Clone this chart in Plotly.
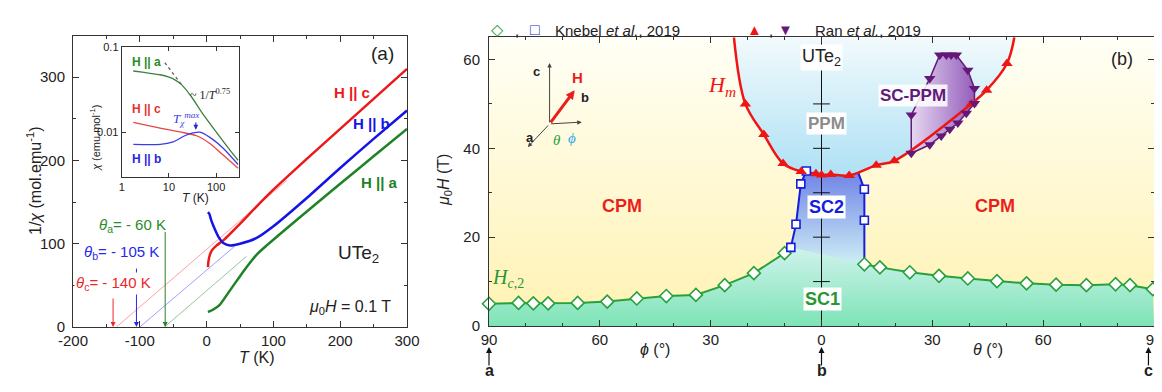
import plotly.graph_objects as go

FONT = "Liberation Sans, Arial, sans-serif"
SERIF = "Liberation Serif, Times New Roman, serif"
W, H = 1162, 392
OFF = 8                              # page body margin of the browser
WF, HF = W - 2 * OFF, H - 2 * OFF    # figure size so that the page does not overflow


def fx(px):
    return min(1.0, (px - OFF) / WF)


def fy(py):
    return 1 - (py - OFF) / HF


# ---------------- Panel (a): 1/chi vs T ----------------
T_a = [2, 5, 10, 20, 35, 50, 60, 75, 90, 125, 155, 200, 250, 300]
inv_chi_a = [18, 19, 21, 27, 44, 61, 72, 87, 98, 122, 142, 172, 205, 238]
T_b = [2, 4, 7, 12, 18, 25, 35, 50, 75, 100, 150, 200, 250, 300]
inv_chi_b = [138, 136, 128, 118, 108, 101, 98, 100, 107, 121, 155, 191, 226, 260]
T_c = [2, 3, 5, 8, 15, 25, 50, 75, 100, 150, 200, 250, 300]
inv_chi_c = [72, 80, 87, 92, 98, 104, 124, 145, 165, 202, 238, 274, 310]
T_ticks = [-200, -100, 0, 100, 200, 300]
T_ticktext = ["-200", "-100", "0", "100", "200", "300"]

# Curie-Weiss extrapolations (T, 1/chi)
cw_a_T, cw_a_v = [-63, 60], [0, 85]
cw_b_T, cw_b_v = [-100, 45], [0, 99]
cw_c_T, cw_c_v = [-135, 120], [0, 176]
theta_cw = {"a": -62, "b": -105, "c": -140}
theta_arrow_top = {"a": 116, "b": 72, "c": 36}

# Inset: chi vs T (log-log)
chi_T_a = [1.76, 3, 6.5, 10, 13.4, 18.5, 30, 50, 100, 200, 292]
chi_a = [0.052, 0.050, 0.047, 0.044, 0.041, 0.036, 0.026, 0.017, 0.0101, 0.0061, 0.0047]
chi_T_b = [1.76, 6.5, 12.3, 21.8, 32.6, 45, 73.5, 141, 292]
chi_b = [0.0072, 0.0072, 0.0077, 0.0091, 0.0098, 0.0100, 0.0087, 0.0065, 0.0042]
chi_T_c = [1.76, 6.5, 18.5, 38.5, 73.5, 141, 292]
chi_c = [0.013, 0.0112, 0.0100, 0.0091, 0.0074, 0.0054, 0.0038]
pl_T, pl_chi = [8.2, 18.5], [0.065, 0.036]

# ---------------- Panel (b): phase diagram ----------------
# Hc2 (Knebel, diamonds): phi side (a->b) and theta side (b->c)
hc2_phi = [90, 82, 78, 74, 66, 58, 50, 42, 34, 26.2, 18.3, 10]
hc2_phi_H = [5.0, 5.2, 5.1, 5.1, 5.2, 5.5, 6.2, 6.75, 7.0, 9.2, 11.9, 16.4]
hc2_theta = [11.6, 15.8, 23.9, 31.8, 39.6, 47.5, 55.5, 63.5, 71.7, 79.6, 83.5, 89.7]
hc2_theta_H = [13.9, 13.2, 12.1, 11.3, 10.7, 10.1, 9.6, 9.3, 9.2, 9.4, 9.2, 8.3]
# SC2 boundary (Knebel, squares)
sc2_phi = [8.3, 6.9, 5.6, 4.1]
sc2_phi_H = [17.7, 22.9, 32.0, 34.9]
sc2_theta = [11.6, 11.6]
sc2_theta_H = [30.8, 23.8]
sc2_right_top = (10.0, 34.4)
# Hm (Ran, up triangles)
hm_phi = [20.6, 15.6, 10.4, 5.5, 1.5]
hm_phi_H = [50.0, 43.1, 36.6, 34.8, 34.3]
hm_theta = [0.0, 2.5, 7.5, 14.8, 19.7, 40.5, 44.7, 50.2]
hm_theta_H = [34.0, 34.1, 33.9, 36.2, 37.2, 50.0, 53.1, 59.1]
hm_top_phi, hm_top_theta, hm_top_H = 23.7, 52.2, 65.0
# SC-PPM (Ran, down triangles), theta side, closed loop order
ppm_theta = [29.3, 24.3, 24.3, 29.3, 32.4, 34.7, 36.9, 39.2, 41.4, 41.4, 39.6, 36.5, 35.1, 33.8, 32.0]
ppm_H = [55.7, 47.5, 38.9, 40.8, 42.8, 44.3, 45.7, 47.9, 50.1, 53.5, 57.6, 61.0, 61.0, 61.0, 61.0]

angle_ticks = [-90, -60, -30, 0, 30, 60, 90]
angle_ticktext = ["90", "60", "30", "0", "30", "60", "90"]

GREEN, BLUE, RED, PURPLE = "rgb(40,160,60)", "rgb(20,30,220)", "rgb(240,20,20)", "rgb(100,25,120)"

fig = go.Figure()

# ---------- panel (a) traces ----------
for Tl, vl, col in [(cw_c_T, cw_c_v, "rgb(255,160,160)"), (cw_b_T, cw_b_v, "rgb(160,160,255)"),
                    (cw_a_T, cw_a_v, "rgb(150,200,150)")]:
    fig.add_trace(go.Scatter(x=Tl, y=vl, mode="lines", line=dict(color=col, width=1), xaxis="x", yaxis="y"))
for Tl, vl, col in [(T_c, inv_chi_c, "rgb(235,25,25)"), (T_b, inv_chi_b, "rgb(20,20,230)"),
                    (T_a, inv_chi_a, "rgb(30,130,40)")]:
    fig.add_trace(go.Scatter(x=Tl, y=vl, mode="lines", line=dict(color=col, width=2.5, shape="spline", smoothing=0.6),
                             xaxis="x", yaxis="y"))

# ---------- inset traces ----------
fig.add_trace(go.Scatter(x=pl_T, y=pl_chi, mode="lines", line=dict(color="#555", width=1.2, dash="dot"),
                         xaxis="x3", yaxis="y3"))
for Tl, cl, col in [(chi_T_a, chi_a, "rgb(60,130,60)"), (chi_T_c, chi_c, "rgb(230,70,70)"),
                    (chi_T_b, chi_b, "rgb(60,60,230)")]:
    fig.add_trace(go.Scatter(x=Tl, y=cl, mode="lines", line=dict(color=col, width=1.3, shape="spline", smoothing=0.6),
                             xaxis="x3", yaxis="y3"))

# ---------- panel (b) fills ----------
fig.add_trace(go.Scatter(x=[-90, 90, 90, -90], y=[0, 0, 65, 65], mode="lines", line=dict(width=0),
                         fill="toself", fillgradient=dict(type="vertical", start=0, stop=65,
                         colorscale=[[0, "rgb(255,242,178)"], [1, "rgb(255,255,246)"]]),
                         xaxis="x2", yaxis="y2", hoverinfo="skip"))
sc1_x = [-90] + [-p for p in hc2_phi] + [-sc2_phi[0]] + hc2_theta + [90]
sc1_y = [0] + hc2_phi_H + [sc2_phi_H[0]] + hc2_theta_H + [0]
fig.add_trace(go.Scatter(x=sc1_x, y=sc1_y, mode="lines", line=dict(width=0), fill="toself",
                         fillgradient=dict(type="vertical", start=0, stop=17,
                         colorscale=[[0, "rgb(125,228,182)"], [1, "rgb(205,242,235)"]]),
                         xaxis="x2", yaxis="y2", hoverinfo="skip"))
hm_x = [-hm_top_phi] + [-p for p in hm_phi] + hm_theta + [hm_top_theta]
hm_y = [hm_top_H] + hm_phi_H + hm_theta_H + [hm_top_H]
fig.add_trace(go.Scatter(x=hm_x, y=hm_y, mode="lines", line=dict(width=0, shape="spline", smoothing=1),
                         fill="toself", fillgradient=dict(type="vertical", start=34, stop=65,
                         colorscale=[[0, "rgb(175,225,245)"], [1, "rgb(242,250,252)"]]),
                         xaxis="x2", yaxis="y2", hoverinfo="skip"))
sc2_x = [-p for p in sc2_phi] + [-hm_phi[-1]] + hm_theta[:3] + [sc2_right_top[0]] + sc2_theta + [hc2_theta[0]]
sc2_y = sc2_phi_H + [hm_phi_H[-1]] + hm_theta_H[:3] + [sc2_right_top[1]] + sc2_theta_H + [hc2_theta_H[0]]
fig.add_trace(go.Scatter(x=sc2_x, y=sc2_y, mode="lines", line=dict(width=0), fill="toself",
                         fillgradient=dict(type="vertical", start=14, stop=35,
                         colorscale=[[0, "rgb(205,238,245)"], [1, "rgb(110,130,230)"]]),
                         xaxis="x2", yaxis="y2", hoverinfo="skip"))
fig.add_trace(go.Scatter(x=ppm_theta + [ppm_theta[0]], y=ppm_H + [ppm_H[0]], mode="lines",
                         line=dict(color=PURPLE, width=1.5), fill="toself",
                         fillgradient=dict(type="horizontal", start=24, stop=42,
                         colorscale=[[0, "rgb(232,218,242)"], [1, "rgb(145,90,185)"]]),
                         xaxis="x2", yaxis="y2", hoverinfo="skip"))

# ---------- panel (b) lines ----------
fig.add_trace(go.Scatter(x=[-p for p in hc2_phi] + [-sc2_phi[0]], y=hc2_phi_H + [sc2_phi_H[0]], mode="lines",
                         line=dict(color=GREEN, width=2), xaxis="x2", yaxis="y2"))
fig.add_trace(go.Scatter(x=hc2_theta, y=hc2_theta_H, mode="lines", line=dict(color=GREEN, width=2),
                         xaxis="x2", yaxis="y2"))
fig.add_trace(go.Scatter(x=[-p for p in sc2_phi], y=sc2_phi_H, mode="lines", line=dict(color=BLUE, width=2),
                         xaxis="x2", yaxis="y2"))
fig.add_trace(go.Scatter(x=[sc2_right_top[0]] + sc2_theta + [hc2_theta[0]],
                         y=[sc2_right_top[1]] + sc2_theta_H + [hc2_theta_H[0]], mode="lines",
                         line=dict(color=BLUE, width=2), xaxis="x2", yaxis="y2"))
fig.add_trace(go.Scatter(x=hm_x, y=hm_y, mode="lines", line=dict(color=RED, width=2.5, shape="spline", smoothing=1),
                         xaxis="x2", yaxis="y2"))
# center vertical line with cross ticks
fig.add_trace(go.Scatter(x=[0, 0], y=[0, 65], mode="lines", line=dict(color="#111", width=1), xaxis="x2", yaxis="y2"))
fig.add_trace(go.Scatter(x=[0] * 6, y=[10, 20, 30, 40, 50, 60], mode="markers",
                         marker=dict(symbol="line-ew", size=12, line=dict(color="#111", width=1)),
                         xaxis="x2", yaxis="y2"))

# ---------- panel (b) markers ----------
fig.add_trace(go.Scatter(x=[-p for p in hc2_phi] + hc2_theta, y=hc2_phi_H + hc2_theta_H, mode="markers",
                         marker=dict(symbol="diamond", size=10, color="white", line=dict(color=GREEN, width=1.6)),
                         cliponaxis=False, xaxis="x2", yaxis="y2"))
fig.add_trace(go.Scatter(x=[-p for p in sc2_phi] + sc2_theta, y=sc2_phi_H + sc2_theta_H, mode="markers",
                         marker=dict(symbol="square", size=8, color="white", line=dict(color=BLUE, width=1.6)),
                         cliponaxis=False, xaxis="x2", yaxis="y2"))
fig.add_trace(go.Scatter(x=[-p for p in hm_phi] + hm_theta, y=hm_phi_H + hm_theta_H, mode="markers",
                         marker=dict(symbol="triangle-up", size=10, color=RED),
                         cliponaxis=False, xaxis="x2", yaxis="y2"))
fig.add_trace(go.Scatter(x=ppm_theta, y=ppm_H, mode="markers",
                         marker=dict(symbol="triangle-down", size=10, color=PURPLE),
                         cliponaxis=False, xaxis="x2", yaxis="y2"))

# ---------- layout ----------
ax_common = dict(showgrid=False, zeroline=False, showline=True, linecolor="#333", linewidth=1,
                 mirror="ticks", ticks="inside", tickcolor="#333", ticklen=6, automargin=False,
                 ticklabeloverflow="allow", tickfont=dict(family=FONT, size=15, color="#222"))
small_tick = dict(ax_common, ticklen=4, tickfont=dict(family=FONT, size=11, color="#222"))

fig.update_layout(
    width=WF, height=HF, margin=dict(l=0, r=0, t=0, b=0, autoexpand=False),
    paper_bgcolor="white", plot_bgcolor="rgba(0,0,0,0)", showlegend=False,
    font=dict(family=FONT, color="#222"),
    xaxis=dict(domain=[fx(73), fx(407)], range=[-200, 300], tickvals=T_ticks, ticktext=T_ticktext,
               minor=dict(dtick=50, ticks="inside", ticklen=3, tickcolor="#333"), anchor="y", **ax_common),
    yaxis=dict(domain=[fy(327), fy(35.6)], range=[0, 350], tickvals=[0, 100, 200, 300], ticklabelstandoff=4,
               minor=dict(dtick=50, ticks="inside", ticklen=3, tickcolor="#333"), anchor="x", **ax_common),
    xaxis2=dict(domain=[fx(489), fx(1157.6)], range=[-90, 90], tickvals=angle_ticks, ticktext=angle_ticktext,
                minor=dict(dtick=10, ticks="inside", ticklen=3, tickcolor="#333"), anchor="y2", **ax_common),
    yaxis2=dict(domain=[fy(326), fy(37.3)], range=[0, 65], tickvals=[0, 20, 40, 60], ticklabelstandoff=5,
                minor=dict(dtick=10, ticks="inside", ticklen=3, tickcolor="#333"), anchor="x2", **ax_common),
    xaxis3=dict(domain=[fx(121.7), fx(238.8)], type="log", range=[0, 2.48], tickvals=[1, 10, 100],
                ticktext=["1", "10", "100"], anchor="y3", **small_tick),
    yaxis3=dict(domain=[fy(176.7), fy(46.7)], type="log", range=[-2.52, -1], tickvals=[0.01, 0.1],
                ticktext=["0.01", "0.1"], anchor="x3", **small_tick),
)

# inset white background
fig.add_shape(type="rect", xref="paper", yref="paper", x0=fx(121.7), x1=fx(238.8), y0=fy(176.7),
              y1=fy(46.7), fillcolor="white", line=dict(width=0), layer="below")

ann = []


def A(text, x, y, xref="x", yref="y", size=15, color="#222", bold=False, family=FONT, bg=None, **kw):
    if bold:
        text = "<b>" + text + "</b>"
    d = dict(text=text, x=x, y=y, xref=xref, yref=yref, showarrow=False,
             font=dict(family=family, size=size, color=color))
    if bg:
        d["bgcolor"] = bg
        d["borderpad"] = 1
    d.update(kw)
    ann.append(d)


def P(text, px, py, **kw):
    A(text, fx(px), fy(py), xref="paper", yref="paper", **kw)


# --- panel (a) annotations ---
for key, col in [("c", "rgb(235,40,40)"), ("b", "rgb(40,40,235)"), ("a", "rgb(40,130,40)")]:
    ann.append(dict(x=theta_cw[key], y=0, ax=theta_cw[key], ay=theta_arrow_top[key], xref="x", yref="y",
                    axref="x", ayref="y", showarrow=True, arrowhead=2, arrowsize=1, arrowwidth=1,
                    arrowcolor=col, text=""))
A("<i>θ</i><sub>a</sub>= - 60 K", -111, 122, color="rgb(40,140,40)", size=15)
A("<i>θ</i><sub>b</sub>= - 105 K", -127, 90, color="rgb(40,40,235)", size=15, bg="white")
A("<i>θ</i><sub>c</sub>= - 140 K", -139, 52, color="rgb(235,40,40)", size=15, bg="white")
A("(a)", 264, 329, size=19)
A("UTe<sub>2</sub>", 227, 88, size=19)
A("<i>μ</i><sub>0</sub><i>H</i> = 0.1 T", 214, 24, size=16)
A("H || c", 217, 282, color="rgb(235,25,25)", bold=True, size=15)
A("H || b", 247, 244, color="rgb(20,20,230)", bold=True, size=15)
A("H || a", 259.5, 174, color="rgb(30,130,40)", bold=True, size=15)
P("1/<i>χ</i> (mol.emu<sup>-1</sup>)", 22, 181, size=16, textangle=-90)
P("<i>T</i> (K)", 236.7, 368, size=16)

# --- inset annotations ---
A("H || a", 0.53, -1.18, xref="x3", yref="y3", color="rgb(40,140,40)", bold=True, size=12)
A("H || c", 0.53, -1.73, xref="x3", yref="y3", color="rgb(230,50,50)", bold=True, size=12)
A("H || b", 0.53, -2.31, xref="x3", yref="y3", color="rgb(40,40,220)", bold=True, size=12)
A("~ 1/<i>T</i><sup>0.75</sup>", 1.87, -1.56, xref="x3", yref="y3", family=SERIF, size=12)
A("<i>T<sub>χ</sub><sup>max</sup></i>", 1.37, -1.85, xref="x3", yref="y3", family=SERIF, size=13,
  color="rgb(60,60,230)")
ann.append(dict(x=1.57, y=-1.97, ax=1.57, ay=-1.87, xref="x3", yref="y3", axref="x3", ayref="y3",
                showarrow=True, arrowhead=2, arrowsize=0.8, arrowwidth=1.2, arrowcolor="rgb(40,40,200)", text=""))
P("<i>χ</i> (emu.mol<sup>-1</sup>)", 86, 103, size=11, textangle=-90)
P("<i>T</i> (K)", 180, 198, size=12)

# --- panel (b) annotations ---
A("UTe<sub>2</sub>", 0, 60.5, xref="x2", yref="y2", size=18, bg="white")
A("PPM", 1.3, 45.6, xref="x2", yref="y2", size=17, bold=True, color="rgb(140,140,140)", bg="white")
A("SC2", 1.3, 26.8, xref="x2", yref="y2", size=18, bold=True, color=BLUE, bg="white")
A("SC1", 0.2, 6.0, xref="x2", yref="y2", size=18, bold=True, color="rgb(40,150,50)", bg="white")
A("CPM", -54, 27, xref="x2", yref="y2", size=18, bold=True, color="rgb(235,30,30)")
A("CPM", 47, 27, xref="x2", yref="y2", size=18, bold=True, color="rgb(235,30,30)")
A("SC-PPM", 24.7, 52, xref="x2", yref="y2", size=17, bold=True, color=PURPLE, bg="rgba(255,255,255,0.85)")
A("(b)", 81.4, 60.2, xref="x2", yref="y2", size=18)
A("<i>H<sub>m</sub></i>", -27, 54, xref="x2", yref="y2", size=22, family=SERIF, color=RED)
A("<i>H</i><sub><i>c</i>,2</sub>", -84.8, 10.7, xref="x2", yref="y2", size=20, family=SERIF,
  color="rgb(40,150,50)")
# crystal axes sketch
org = (-73.6, 45.5)
for tip, col, wdt in [((-73.6, 59.2), "#444", 1), ((-64.9, 45.9), "#444", 1), ((-79.5, 40.3), "#444", 1),
                      ((-66.8, 53.1), "rgb(235,30,30)", 3)]:
    ann.append(dict(x=tip[0], y=tip[1], ax=org[0], ay=org[1], xref="x2", yref="y2", axref="x2", ayref="y2",
                    showarrow=True, arrowhead=2, arrowsize=0.9 if wdt == 1 else 0.6, arrowwidth=wdt,
                    arrowcolor=col, text=""))
A("c", -77.1, 57.2, xref="x2", yref="y2", size=13, bold=True)
A("H", -66, 56.0, xref="x2", yref="y2", size=15, bold=True, color="rgb(235,30,30)")
A("b", -63.9, 51.5, xref="x2", yref="y2", size=13, bold=True)
A("a", -79, 42.5, xref="x2", yref="y2", size=13, bold=True)
A("<i>θ</i>", -71.7, 41.9, xref="x2", yref="y2", size=15, family=SERIF, color="rgb(40,160,60)")
A("<i>ϕ</i>", -67.4, 42.3, xref="x2", yref="y2", size=15, family=SERIF, color="rgb(40,170,230)")
# axis titles and direction arrows
P("<i>μ</i><sub>0</sub><i>H</i> (T)", 445, 180, size=16, textangle=-90)
A("<i>ϕ</i> (°)", -45, fy(360), xref="x2", yref="paper", size=16)
A("<i>θ</i> (°)", 45, fy(360), xref="x2", yref="paper", size=16)
for xv, lab in [(-90, "a"), (0, "b"), (88.5, "c")]:
    ann.append(dict(x=xv, y=fy(347), xref="x2", yref="paper", ax=0, ay=20, showarrow=True, arrowhead=2,
                    arrowsize=1, arrowwidth=1.2, arrowcolor="#111", text=""))
    A(lab, xv, fy(381), xref="x2", yref="paper", size=16, bold=True)
# top legend row
P("◇", 497, 19, size=16, color=GREEN)
P(",", 517, 20, size=15)
P("□", 535, 19, size=16, color=BLUE)
P("Knebel <i>et al.</i>, 2019", 553, 20, size=15, xanchor="left")
P("▲", 754, 19, size=15, color=RED)
P(",", 775, 20, size=15)
P("▼", 795, 19, size=15, color=PURPLE)
P("Ran <i>et al.</i>, 2019", 813, 20, size=15, xanchor="left")

fig.update_layout(annotations=ann)
fig.write_html("out.html")
